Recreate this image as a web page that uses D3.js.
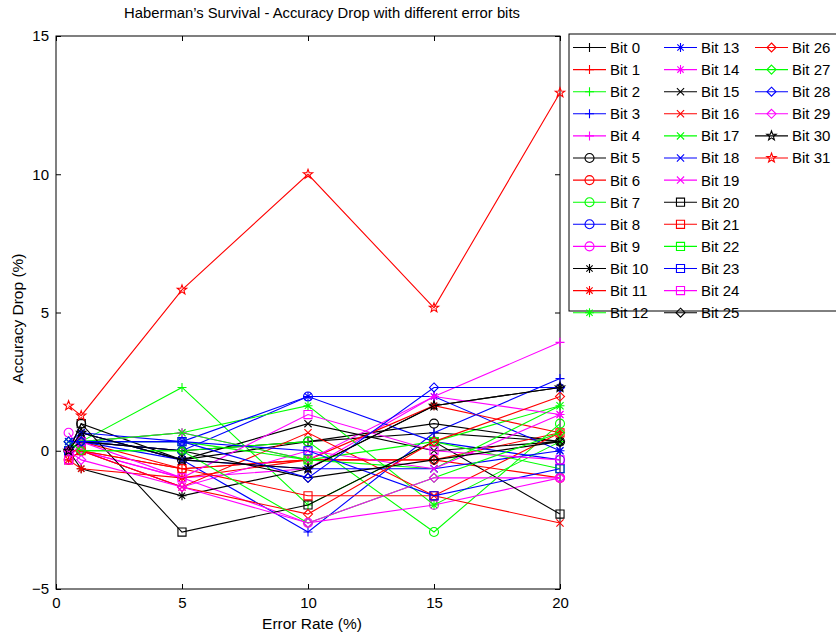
<!DOCTYPE html>
<html>
<head>
<meta charset="utf-8">
<script src="https://cdn.jsdelivr.net/npm/d3@7"></script>
<style>
  body { margin: 0; background: #fff; }
  svg { font-family: "Liberation Sans", Arial, sans-serif; }
</style>
</head>
<body>
<div id="viz"><svg></svg></div>
<script>
// error rates on the x axis (%)
const errorRates = [0.5, 1, 5, 10, 15, 20];
const bitNames = d3.range(32).map(i => `Bit ${i}`);
const xTicks = [0, 5, 10, 15, 20];
const yTicks = [-5, 0, 5, 10, 15];

// accuracy drop (%) for each bit, one row per bit, one value per error rate
const accuracyDrop = [
  [0, 0.33, 0, 0.33, 0.65, 0.33],        // Bit 0
  [0, 0.33, -0.65, -0.33, -0.33, 0.65],  // Bit 1
  [0, 0.33, 2.29, -1.96, 0.33, 1.63],    // Bit 2
  [0, 0.33, -0.33, -2.94, 0.65, 2.61],   // Bit 3
  [-0.33, 0, -0.98, -0.65, 1.96, 3.92],  // Bit 4
  [0, 0.98, -0.33, 0.33, 0.98, 0.33],    // Bit 5
  [-0.33, 0, -0.65, -0.33, -0.33, -0.98],// Bit 6
  [0, 0, 0, 0.33, -2.94, 0.98],          // Bit 7
  [0, 0.33, 0, 1.96, 0.33, -0.33],       // Bit 8
  [0.65, 0, -0.98, -2.61, -1.96, -0.98], // Bit 9
  [0, -0.65, -1.63, -0.65, 1.63, 2.29],  // Bit 10
  [-0.33, -0.65, -0.98, -0.33, 1.63, 0.65], // Bit 11
  [0, 0.33, 0.65, 1.63, -1.96, 0.33],    // Bit 12
  [0, 0.65, 0.33, 1.96, 1.96, 0],        // Bit 13
  [0, 0.33, 0.65, -0.33, 1.96, 1.31],    // Bit 14
  [0, 0.65, -0.33, 0.98, 0, 0.33],       // Bit 15
  [0, 0, -1.31, 0.65, -1.63, -2.61],     // Bit 16
  [0.33, 0.33, 0.65, -0.33, -0.65, 1.63],// Bit 17
  [0.33, 0.65, -0.33, -0.65, -0.65, 0],  // Bit 18
  [0, 0, -1.31, 0, -0.65, 1.31],         // Bit 19
  [0, 0.98, -2.94, -1.96, 0.33, -2.29],  // Bit 20
  [-0.33, 0, -0.65, -1.63, -1.63, 0.65], // Bit 21
  [0, 0.33, 0.33, -0.33, 0.33, -0.65],   // Bit 22
  [0, 0.33, 0.33, 0, -1.63, -0.65],      // Bit 23
  [-0.33, 0.33, -0.98, 1.31, 0, -0.33],  // Bit 24
  [0, 0.33, 0, -0.98, -0.33, 0.33],      // Bit 25
  [0, 0, -1.31, -2.29, 0.33, 1.96],      // Bit 26
  [0.33, 0, 0, -2.61, -0.98, 0.65],      // Bit 27
  [0.33, 0.33, 0.33, -0.98, 2.29, 2.29], // Bit 28
  [0, -0.33, -1.31, -2.61, -0.98, -0.98],// Bit 29
  [0, 0.65, -0.33, -0.65, 1.63, 2.29],   // Bit 30
  [1.63, 1.27, 5.82, 10.0, 5.17, 12.95]  // Bit 31
];

const colorCycle = ['#000000', '#ff0000', '#00ff00', '#0000ff', '#ff00ff'];
const markerCycle = ['+', 'o', '*', 'x', 's', 'd', 'p'];

const SETTINGS = {
  width: 836, height: 635,
  left: 56, right: 560, top: 36, bottom: 589
};

let svg = d3.select('#viz').select('svg')
  .attr('width', SETTINGS.width)
  .attr('height', SETTINGS.height);

let xScale = d3.scaleLinear().domain([0, 20]).range([SETTINGS.left, SETTINGS.right]);
let yScale = d3.scaleLinear().domain([-5, 15]).range([SETTINGS.bottom, SETTINGS.top]);

function markerPath(type, s) {
  if (type === '+') return `M${-s},0H${s}M0,${-s}V${s}`;
  if (type === 'x') { let a = s * 0.8; return `M${-a},${-a}L${a},${a}M${-a},${a}L${a},${-a}`; }
  if (type === '*') { let a = s * 0.7; return `M${-s},0H${s}M0,${-s}V${s}M${-a},${-a}L${a},${a}M${-a},${a}L${a},${-a}`; }
  if (type === 'o') return `M${s},0A${s},${s},0,1,1,${-s},0A${s},${s},0,1,1,${s},0Z`;
  if (type === 's') { let a = s * 0.9; return `M${-a},${-a}H${a}V${a}H${-a}Z`; }
  if (type === 'd') return `M0,${-s}L${s},0L0,${s}L${-s},0Z`;
  // pentagram
  let pts = [];
  for (let k = 0; k < 10; k++) {
    let r = k % 2 === 0 ? s * 1.1 : s * 0.45;
    let ang = -Math.PI / 2 + k * Math.PI / 5;
    pts.push([r * Math.cos(ang), r * Math.sin(ang)]);
  }
  return 'M' + pts.map(p => p[0].toFixed(2) + ',' + p[1].toFixed(2)).join('L') + 'Z';
}

// plot box
svg.append('rect')
  .attr('x', SETTINGS.left).attr('y', SETTINGS.top)
  .attr('width', SETTINGS.right - SETTINGS.left)
  .attr('height', SETTINGS.bottom - SETTINGS.top)
  .attr('fill', 'none').attr('stroke', '#000').attr('stroke-width', 1);

// axes (ticks point inward)
svg.append('g')
  .attr('transform', `translate(0,${SETTINGS.bottom})`)
  .call(d3.axisBottom(xScale).tickValues(xTicks).tickSize(-5).tickSizeOuter(0).tickPadding(8))
  .call(g => g.select('.domain').remove())
  .call(g => g.selectAll('text').attr('font-size', 15).attr('fill', '#000'));
svg.append('g')
  .attr('transform', `translate(0,${SETTINGS.top})`)
  .call(d3.axisTop(xScale).tickValues(xTicks).tickSize(-5).tickSizeOuter(0).tickFormat(''))
  .call(g => g.select('.domain').remove());
svg.append('g')
  .attr('transform', `translate(${SETTINGS.left},0)`)
  .call(d3.axisLeft(yScale).tickValues(yTicks).tickSize(-5).tickSizeOuter(0).tickPadding(7))
  .call(g => g.select('.domain').remove())
  .call(g => g.selectAll('text').attr('font-size', 15).attr('fill', '#000'));
svg.append('g')
  .attr('transform', `translate(${SETTINGS.right},0)`)
  .call(d3.axisRight(yScale).tickValues(yTicks).tickSize(-5).tickSizeOuter(0).tickFormat(''))
  .call(g => g.select('.domain').remove());

// series
let line = d3.line()
  .x((d, i) => xScale(errorRates[i]))
  .y(d => yScale(d));

accuracyDrop.forEach((vals, i) => {
  let color = colorCycle[i % 5];
  let marker = markerCycle[Math.floor(i / 5)];
  let g = svg.append('g').attr('class', 'series');
  g.append('path')
    .attr('d', line(vals))
    .attr('fill', 'none')
    .attr('stroke', color)
    .attr('stroke-width', 1.1);
  g.selectAll('.mk')
    .data(vals)
    .enter()
    .append('path')
    .attr('class', 'mk')
    .attr('transform', (d, j) => `translate(${xScale(errorRates[j])},${yScale(d)})`)
    .attr('d', markerPath(marker, 4.5))
    .attr('fill', 'none')
    .attr('stroke', color)
    .attr('stroke-width', 1.1);
});

// title and axis labels
svg.append('text')
  .attr('x', (SETTINGS.left + SETTINGS.right) / 2 + 14)
  .attr('y', 18)
  .attr('text-anchor', 'middle')
  .attr('font-size', 14.8)
  .text('Haberman\u2019s Survival - Accuracy Drop with different error bits');
svg.append('text')
  .attr('x', (SETTINGS.left + SETTINGS.right) / 2 + 4)
  .attr('y', 629)
  .attr('text-anchor', 'middle')
  .attr('font-size', 15.5)
  .text('Error Rate (%)');
svg.append('text')
  .attr('transform', `translate(23,${(SETTINGS.top + SETTINGS.bottom) / 2 + 6}) rotate(-90)`)
  .attr('text-anchor', 'middle')
  .attr('font-size', 15.5)
  .text('Accuracy Drop (%)');

// legend
let legend = svg.append('g').attr('class', 'legend');
legend.append('rect')
  .attr('x', 569).attr('y', 34)
  .attr('width', 280).attr('height', 277)
  .attr('fill', '#fff').attr('stroke', '#000').attr('stroke-width', 1);

let entries = legend.selectAll('.entry')
  .data(bitNames)
  .enter()
  .append('g')
  .attr('class', 'entry')
  .attr('transform', (d, i) => `translate(${573 + Math.floor(i / 13) * 91},${47.5 + (i % 13) * 22.1})`);
entries.append('line')
  .attr('x1', 0).attr('x2', 33)
  .attr('stroke', (d, i) => colorCycle[i % 5])
  .attr('stroke-width', 1.1);
entries.append('path')
  .attr('transform', 'translate(16.5,0)')
  .attr('d', (d, i) => markerPath(markerCycle[Math.floor(i / 5)], 4.5))
  .attr('fill', 'none')
  .attr('stroke', (d, i) => colorCycle[i % 5])
  .attr('stroke-width', 1.1);
entries.append('text')
  .attr('x', 37)
  .attr('dy', '0.36em')
  .attr('font-size', 15)
  .text(d => d);
</script>
</body>
</html>
